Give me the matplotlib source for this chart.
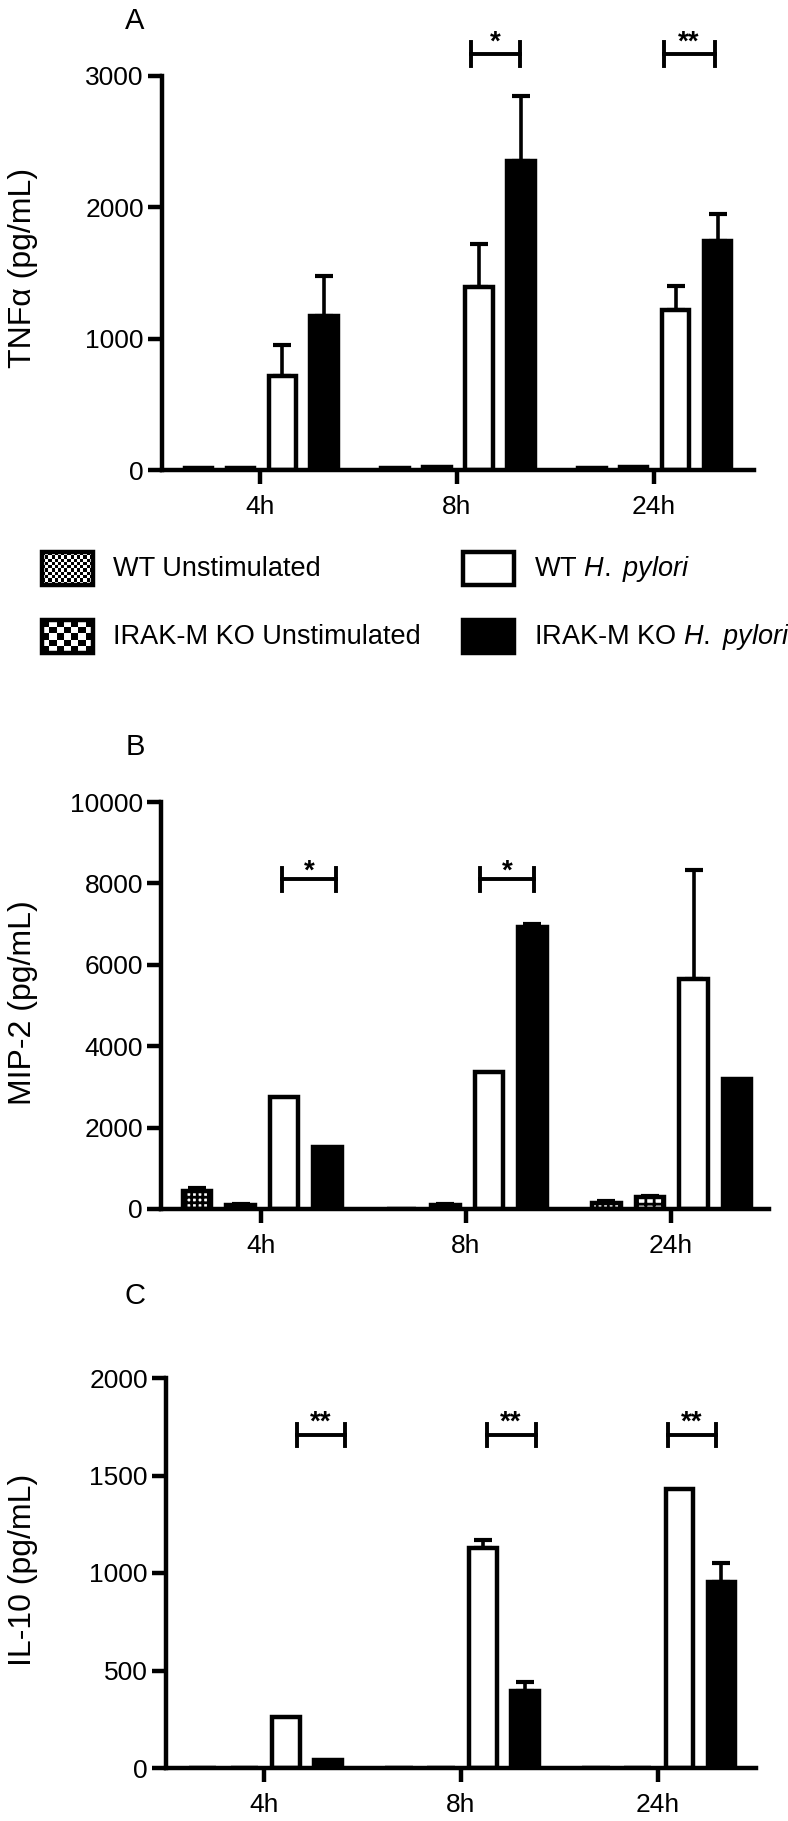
import numpy as np
import matplotlib.pyplot as plt
from matplotlib.patches import Rectangle

plt.rcParams['font.family'] = ['Liberation Sans', 'DejaVu Sans']
plt.rcParams['mathtext.fontset'] = 'custom'
plt.rcParams['mathtext.rm'] = 'Liberation Sans'
plt.rcParams['mathtext.it'] = 'Liberation Sans:italic'
plt.rcParams['hatch.linewidth'] = 2.0

times = ['4h', '8h', '24h']
groups = ['WT Unstimulated', 'IRAK-M KO Unstimulated',
          r'WT $\mathit{H.\ pylori}$', r'IRAK-M KO $\mathit{H.\ pylori}$']

# panel A: TNFa (pg/mL)
tnf_wt_unstim = [15, 15, 15]
tnf_ko_unstim = [12, 20, 25]
tnf_wt_hp = [715, 1390, 1217]
tnf_ko_hp = [1175, 2355, 1740]
tnf_wt_unstim_err = [0, 0, 0]
tnf_ko_unstim_err = [0, 0, 0]
tnf_wt_hp_err = [240, 328, 181]
tnf_ko_hp_err = [300, 490, 210]

# panel B: MIP-2 (pg/mL)
mip_wt_unstim = [450, 0, 150]
mip_ko_unstim = [110, 100, 290]
mip_wt_hp = [2740, 3375, 5650]
mip_ko_hp = [1530, 6920, 3195]
mip_wt_unstim_err = [70, 0, 40]
mip_ko_unstim_err = [20, 20, 30]
mip_wt_hp_err = [0, 0, 2690]
mip_ko_hp_err = [0, 80, 0]

# panel C: IL-10 (pg/mL)
il10_wt_unstim = [0, 0, 0]
il10_ko_unstim = [0, 0, 0]
il10_wt_hp = [260, 1126, 1433]
il10_ko_hp = [40, 393, 956]
il10_wt_hp_err = [0, 45, 0]
il10_ko_hp_err = [0, 50, 95]

# significance marks: (time index, label)
tnf_sig = [(1, '*'), (2, '**')]
mip_sig = [(0, '*'), (1, '*')]
il10_sig = [(0, '**'), (1, '**'), (2, '**')]

W, H = 788, 1821
fig = plt.figure(figsize=(W / 100, H / 100), dpi=100)

LW = 3.2
offsets = np.array([-1.5, -0.5, 0.5, 1.5]) * 0.213 + 0.005
bw = 0.14
styles = [dict(facecolor='white', hatch='+++'),
          dict(facecolor='white', hatch='++'),
          dict(facecolor='white'),
          dict(facecolor='black')]


def px_axes(left, top, right, bottom):
    return fig.add_axes([left / W, 1 - bottom / H, (right - left) / W, (bottom - top) / H])


def draw_panel(ax, series, errors, ymax, yticks, xlim, sig, brackets, ybr, hbr, ystar):
    x = np.arange(len(times))
    for k in range(4):
        ax.bar(x + offsets[k], series[k], width=bw, edgecolor='black',
               linewidth=LW, zorder=2, **styles[k])
        err = np.array(errors[k], dtype=float)
        m = err > 0
        if m.any():
            ax.errorbar((x + offsets[k])[m], np.array(series[k])[m],
                        yerr=[np.zeros(m.sum()), err[m]], fmt='none',
                        ecolor='black', elinewidth=2.6, capsize=6.5,
                        capthick=3.0, zorder=1)
    for (i, lab), (a, b) in zip(sig, brackets):
        x0, x1 = i + a, i + b
        ax.plot([x0, x1], [ybr, ybr], color='black', lw=2.8, clip_on=False)
        for xx in (x0, x1):
            ax.plot([xx, xx], [ybr - hbr, ybr + hbr], color='black', lw=2.8,
                    clip_on=False)
        ax.annotate(lab, xy=((x0 + x1) / 2, ystar), xytext=(0, -11),
                    textcoords='offset points', ha='center', va='baseline',
                    fontsize=20, fontweight='bold', annotation_clip=False)
    ax.set_xlim(*xlim)
    ax.set_ylim(0, ymax)
    ax.set_xticks(x, times)
    ax.set_yticks(yticks)
    for s in ('top', 'right'):
        ax.spines[s].set_visible(False)
    for s in ('left', 'bottom'):
        ax.spines[s].set_linewidth(LW)
    ax.tick_params(axis='both', length=10, width=LW, labelsize=19)
    ax.tick_params(axis='x', pad=8)
    ax.tick_params(axis='y', pad=3)
    ax.patch.set_alpha(0)


axA = px_axes(162, 76, 754, 470)
draw_panel(axA,
           [tnf_wt_unstim, tnf_ko_unstim, tnf_wt_hp, tnf_ko_hp],
           [tnf_wt_unstim_err, tnf_ko_unstim_err, tnf_wt_hp_err, tnf_ko_hp_err],
           3000, [0, 1000, 2000, 3000], (-0.5, 2.51), tnf_sig,
           [(0.07, 0.32), (0.05, 0.31)], 3168, 90, 3315)

axB = px_axes(161, 802, 769, 1209)
draw_panel(axB,
           [mip_wt_unstim, mip_ko_unstim, mip_wt_hp, mip_ko_hp],
           [mip_wt_unstim_err, mip_ko_unstim_err, mip_wt_hp_err, mip_ko_hp_err],
           10000, [0, 2000, 4000, 6000, 8000, 10000], (-0.49, 2.48), mip_sig,
           [(0.10, 0.365), (0.07, 0.33)], 8100, 275, 8500)

axC = px_axes(166, 1378, 756, 1768)
draw_panel(axC,
           [il10_wt_unstim, il10_ko_unstim, il10_wt_hp, il10_ko_hp],
           [[0, 0, 0], [0, 0, 0], il10_wt_hp_err, il10_ko_hp_err],
           2000, [0, 500, 1000, 1500, 2000], (-0.5, 2.5), il10_sig,
           [(0.165, 0.41), (0.13, 0.38), (0.05, 0.295)], 1708, 55, 1813)

# y labels and panel letters
for y, lab in [(268, 'TNF\u03b1 (pg/mL)'), (1003, 'MIP-2 (pg/mL)'), (1570, 'IL-10 (pg/mL)')]:
    fig.text(23 / W, 1 - y / H, lab, rotation=90, ha='center', va='center', fontsize=23)
for y, lab in [(21, 'A'), (747, 'B'), (1296, 'C')]:
    fig.text(135 / W, 1 - y / H, lab, ha='center', va='center', fontsize=21)

# legend drawn in pixel coordinates
ov = fig.add_axes([0, 0, 1, 1])
ov.axis('off')
legend_pos = [(42, 552), (42, 620), (463, 552), (463, 620)]
sq_w, sq_h = 51, 33
checks = [(16, 10), (7, 5)]
for k, (lx, ly) in enumerate(legend_pos):
    if k < 2:
        nx, ny = checks[k]
        board = np.indices((ny, nx)).sum(0) % 2
        ov.imshow(board, cmap='gray', interpolation='nearest', aspect='auto',
                  extent=(lx, lx + sq_w, ly + sq_h, ly), zorder=1)
        ov.add_patch(Rectangle((lx, ly), sq_w, sq_h, fill=False,
                               edgecolor='black', lw=LW, zorder=2))
    else:
        ov.add_patch(Rectangle((lx, ly), sq_w, sq_h,
                               facecolor=styles[k]['facecolor'],
                               edgecolor='black', lw=LW, zorder=2))
    ov.text(lx + sq_w + 20, ly + sq_h / 2, groups[k], ha='left', va='center',
            fontsize=19.5)
ov.set_xlim(0, W)
ov.set_ylim(H, 0)

fig.savefig('out.png', dpi=100)
